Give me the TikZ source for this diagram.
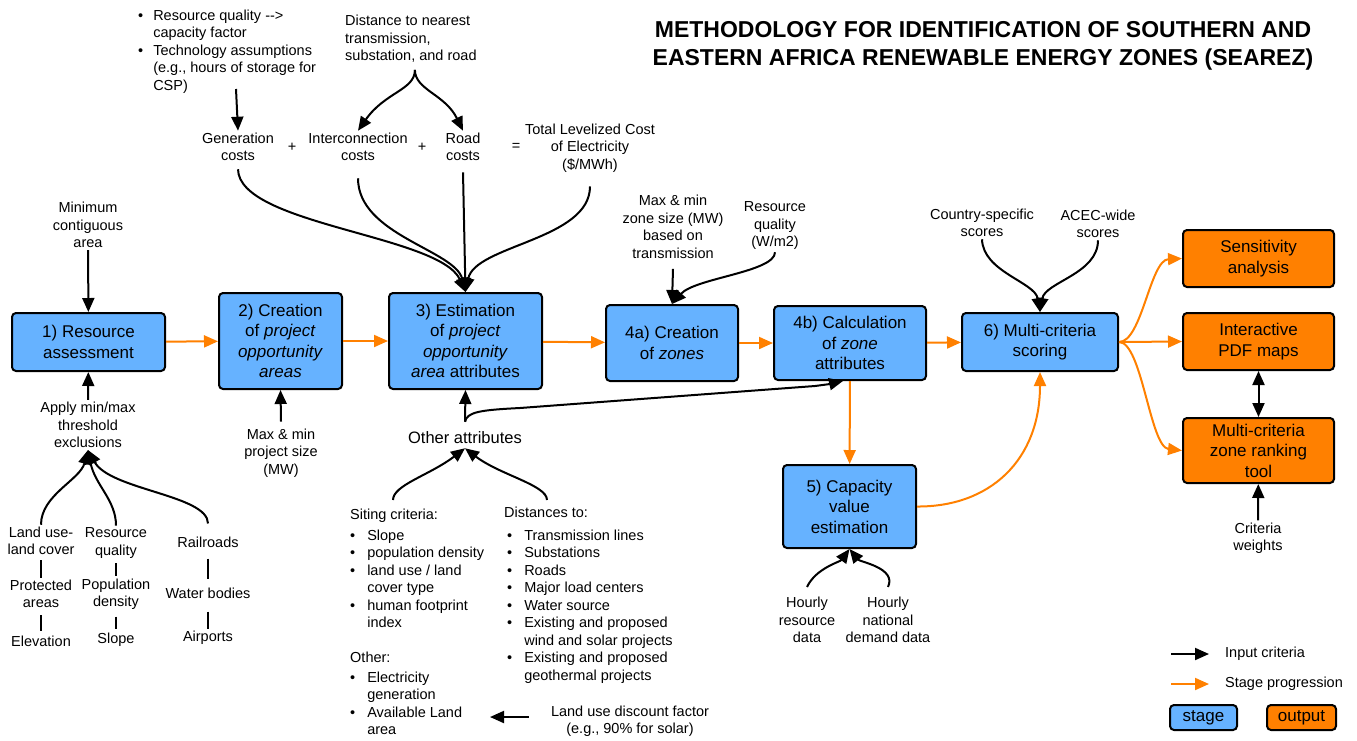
\documentclass[tikz,border=0pt]{standalone}
\usepackage{fontspec}
\setmainfont{Liberation Sans}
\usepackage{color}
\definecolor{mystageblue}{RGB}{102,178,255}
\definecolor{myorange}{RGB}{255,128,0}
\usepackage{tikz}
\usetikzlibrary{arrows.meta,positioning,calc}
\newcommand{\lblfont}{\fontsize{14.5}{17.5}\selectfont}
\newcommand{\boxfont}{\fontsize{17}{20.5}\selectfont}

\begin{document}
\begin{tikzpicture}[
  x=1pt, y=-1pt,
  stagebox/.style={
    draw,
    line width=2pt,
    rounded corners=4pt,
    fill=mystageblue,
    align=center,
    font=\boxfont,
    inner sep=2pt
    },
  outbox/.style={stagebox, fill=myorange},
  lbl/.style={align=center, font=\lblfont, inner sep=2pt},
  bul/.style={font=\lblfont, inner sep=0pt, anchor=north west},
  inarrow/.style={line width=2pt, -{Triangle[length=14pt,width=12pt]}},
  progarrow/.style={line width=2pt, draw=myorange, -{Triangle[length=14pt,width=12pt]}},
  sepline/.style={line width=2pt}
]
\useasboundingbox (0,0) rectangle (1357,740);

\node [lbl, font=\fontsize{23}{28}\selectfont\bfseries] (title) at (983,46)
  {METHODOLOGY FOR IDENTIFICATION OF SOUTHERN AND\\EASTERN AFRICA RENEWABLE ENERGY ZONES (SEAREZ)};

% stages
\node [stagebox, minimum width=153pt, minimum height=58pt] (s1) at (88.5,342) {1) Resource\\assessment};
\node [stagebox, minimum width=123pt, minimum height=96pt] (s2) at (280.5,341) {2) Creation\\of \emph{project}\\\emph{opportunity}\\\emph{areas}};
\node [stagebox, minimum width=153pt, minimum height=96pt] (s3) at (465.5,341) {3) Estimation\\of \emph{project}\\\emph{opportunity}\\\emph{area} attributes};
\node [stagebox, minimum width=132pt, minimum height=76pt] (s4a) at (672,343) {4a) Creation\\of \emph{zones}};
\node [stagebox, minimum width=152pt, minimum height=74pt] (s4b) at (850,343) {4b) Calculation\\of \emph{zone}\\attributes};
\node [stagebox, minimum width=133pt, minimum height=83pt] (s5) at (849.5,506.5) {5) Capacity\\value\\estimation};
\node [stagebox, minimum width=156pt, minimum height=58pt] (s6) at (1040,342) {6) Multi-criteria\\scoring};
\node [outbox, minimum width=151pt, minimum height=57pt] (sens) at (1258.5,258.5) {Sensitivity\\analysis};
\node [outbox, minimum width=151pt, minimum height=57pt] (pdf) at (1258.5,341.5) {Interactive\\PDF maps};
\node [outbox, minimum width=151pt, minimum height=65pt] (rank) at (1258.5,450.5) {Multi-criteria\\zone ranking\\tool};

% inputs of 1
\node [lbl] (mca) at (88,225) {Minimum\\contiguous\\area};
\node [lbl] (excl) at (88,425) {Apply min/max\\threshold\\exclusions};
\node [lbl] (lulc) at (41,541) {Land use-\\land cover};
\node [lbl] (resq) at (116,543) {Resource\\quality};
\node [lbl] (rail) at (208,542) {Railroads};
\node [lbl] (prot) at (41,594) {Protected\\areas};
\node [lbl] (popd) at (116,594) {Population\\density};
\node [lbl] (water) at (208,593) {Water bodies};
\node [lbl] (elev) at (41,641) {Elevation};
\node [lbl] (slope) at (116,640) {Slope};
\node [lbl] (airp) at (208,638) {Airports};

% inputs of 2 and 3
\node [lbl] (mwp) at (281,453) {Max \& min\\project size\\(MW)};
\node [bul] (tech) at (138,8) {\begin{tabular}[t]{@{}l@{\hspace{10pt}}l@{}}
\textbullet & Resource quality -{}->\\
 & capacity factor\\
\textbullet & Technology assumptions\\
 & (e.g., hours of storage for\\
 & CSP)
\end{tabular}};
\coordinate (techend) at (236,89);
\node [lbl, align=left, anchor=west] (dist) at (343,39) {Distance to nearest\\transmission,\\substation, and road};
\node [lbl] (gen) at (238,147) {Generation\\costs};
\node [lbl] (plus1) at (292,147) {+};
\node [lbl] (icon) at (358,147) {Interconnection\\costs};
\node [lbl] (plus2) at (422,147) {+};
\node [lbl] (road) at (463,147) {Road\\costs};
\node [lbl] (eq) at (516,147) {=};
\node [lbl] (lcoe) at (590,148) {Total Levelized Cost\\of Electricity\\(\$/MWh)};

\node [lbl, font=\fontsize{16.5}{19}\selectfont] (oth) at (465,438) {Other attributes};
\node [bul] (siting) at (350,507) {\begin{tabular}[t]{@{}l@{\hspace{12pt}}l@{}}
\multicolumn{2}{@{}l@{}}{Siting criteria:}\\[3.5pt]
\textbullet & Slope\\
\textbullet & population density\\
\textbullet & land use / land\\
 & cover type\\
\textbullet & human footprint\\
 & index
\end{tabular}};
\node [bul] (other) at (350,650) {\begin{tabular}[t]{@{}l@{\hspace{12pt}}l@{}}
\multicolumn{2}{@{}l@{}}{Other:}\\[2.5pt]
\textbullet & Electricity\\
 & generation\\
\textbullet & Available Land\\
 & area
\end{tabular}};
\node [bul] (dists) at (504,505) {\begin{tabular}[t]{@{\hspace{3pt}}l@{\hspace{12pt}}l@{}}
\multicolumn{2}{@{}l@{}}{Distances to:}\\[5.5pt]
\textbullet & Transmission lines\\
\textbullet & Substations\\
\textbullet & Roads\\
\textbullet & Major load centers\\
\textbullet & Water source\\
\textbullet & Existing and proposed\\
 & wind and solar projects\\
\textbullet & Existing and proposed\\
 & geothermal projects
\end{tabular}};
\coordinate (sitetop) at (393,500);
\coordinate (disttop) at (547,500);
\node [lbl] (ludf) at (630,721) {Land use discount factor\\(e.g., 90\% for solar)};
\coordinate (availarea) at (490,717);

% inputs of 4a, 5, 6 and outputs
\node [lbl] (mmz) at (673,227) {Max \& min\\zone size (MW)\\based on\\transmission};
\node [lbl] (rqw) at (775,226) {Resource\\quality\\(W/m2)};
\node [lbl] (hres) at (807,620) {Hourly\\resource\\data};
\node [lbl] (hdem) at (888,620) {Hourly\\national\\demand data};
\node [lbl] (cs) at (982,223) {Country-specific\\scores};
\node [lbl] (acec) at (1098,224) {ACEC-wide\\scores};
\node [lbl] (cw) at (1258,538) {Criteria\\weights};

% legend
\node [lbl, anchor=west] (lgin) at (1223,654) {Input criteria};
\node [lbl, anchor=west] (lgprog) at (1223,684) {Stage progression};
\node [stagebox, minimum width=67pt, minimum height=25pt] (lgstage) at (1203.5,717.5) {stage};
\node [outbox, minimum width=69pt, minimum height=25pt, right=28pt of lgstage] (lgout) {output};
\draw [inarrow] ([xshift=-52pt]lgin.west) -- ([xshift=-14pt]lgin.west);
\draw [progarrow] ([xshift=-52pt]lgprog.west) -- ([xshift=-14pt]lgprog.west);

% stage progression
\draw [progarrow] (s1) -- (s2);
\draw [progarrow] (s2) -- (s3);
\draw [progarrow] (s3) -- (s4a);
\draw [progarrow] (s4a) -- (s4b);
\draw [progarrow] (s4b) -- (s6);
\draw [progarrow] (s4b) -- (s5);
\draw [progarrow] (s5.east) .. controls (990,507) and (1040,460) .. (s6.south);
\draw [progarrow] (s6.east) .. controls (1142,342) and (1150,260) .. (sens.west);
\draw [progarrow] (s6.east) -- (pdf.west);
\draw [progarrow] (s6.east) .. controls (1142,342) and (1150,447) .. (rank.west);

% input criteria
\draw [inarrow] (mca) -- (s1);
\draw [inarrow] (excl) -- (s1);
\draw [inarrow] (lulc.north) .. controls (41,495) and (80,480) .. (excl.south);
\draw [inarrow] (resq.north) .. controls (116,500) and (95,485) .. (excl.south);
\draw [inarrow] ([yshift=11pt]rail.north) .. controls (208,495) and (110,490) .. (excl.south);
\draw [sepline, shorten <=3pt] (lulc) -- (prot);
\draw [sepline, shorten <=3pt] (resq) -- (popd);
\draw [sepline, shorten <=9pt, shorten >=6pt] (rail) -- (water);
\draw [sepline, shorten <=11pt] (water) -- (airp);
\draw [sepline, shorten <=5pt, shorten >=2pt] (prot) -- (elev);
\draw [sepline, shorten <=5pt, shorten >=2pt] (popd) -- (slope);

\draw [inarrow] ([yshift=5pt]mwp.north) -- (s2.south);
\draw [inarrow] (techend) -- (gen.north);
\draw [inarrow] ([xshift=4pt,yshift=-5pt]dist.south) .. controls (415,90) and (385,92) .. (icon.north);
\draw [inarrow] ([xshift=4pt,yshift=-5pt]dist.south) .. controls (415,90) and (445,94) .. (road.north);
\draw [inarrow] ([yshift=-6pt]gen.south) .. controls (239,225) and (440,235) .. (s3.north);
\draw [inarrow] ([yshift=-15pt]icon.south) .. controls (358,235) and (455,250) .. (s3.north);
\draw [inarrow] ([yshift=-9pt]road.south) -- (s3.north);
\draw [inarrow] ([yshift=-12pt]lcoe.south) .. controls (590,240) and (475,245) .. (s3.north);

\draw [inarrow] ([yshift=8pt]oth.north) -- (s3.south);
\draw [inarrow] ([yshift=8pt]oth.north) .. controls (467,412) and (480,410) .. (520,408)
  -- (815,386) .. controls (830,384) .. ([xshift=-7pt]s4b.south);
\draw [inarrow] (sitetop) .. controls (393,485) and (430,475) .. ([yshift=-2pt]oth.south);
\draw [inarrow] (disttop) .. controls (547,485) and (500,475) .. ([yshift=-2pt]oth.south);
\draw [inarrow] ([xshift=-20pt]ludf.west |- availarea) -- (availarea);

\draw [inarrow] ([yshift=-8pt]mmz.south) -- (s4a.north);
\draw [inarrow] (rqw.south) .. controls (775,272) and (695,278) .. (s4a.north);
\draw [inarrow] ([yshift=8pt]hres.north) .. controls (816,568) and (840,562) .. (s5.south);
\draw [inarrow] ([yshift=8pt]hdem.north) .. controls (897,568) and (860,562) .. (s5.south);
\draw [inarrow] (cs.south) .. controls (983,272) and (1035,282) .. (s6.north);
\draw [inarrow] (acec.south) .. controls (1098,274) and (1045,282) .. (s6.north);
\draw [line width=2pt, {Triangle[length=14pt,width=12pt]}-{Triangle[length=14pt,width=12pt]}] (pdf) -- (rank);
\draw [inarrow] (cw) -- (rank);

\end{tikzpicture}
\end{document}
